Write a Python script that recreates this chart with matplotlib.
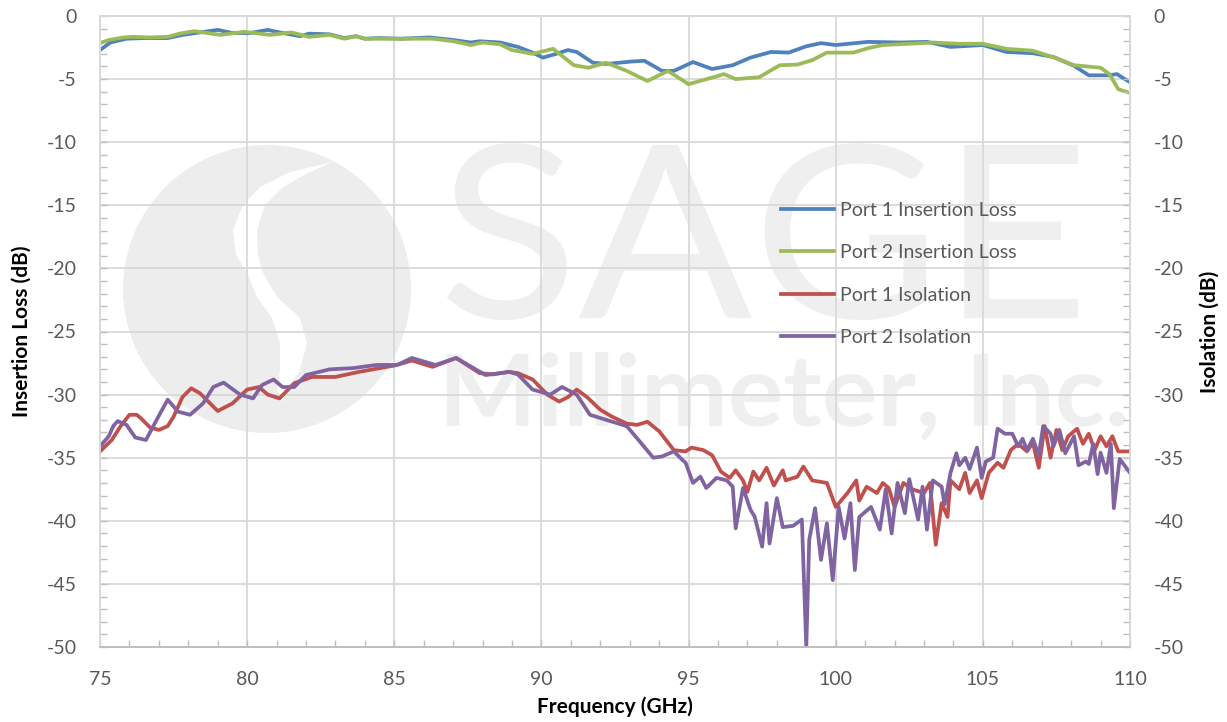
import matplotlib.pyplot as plt
from matplotlib.patches import Circle, Polygon, PathPatch
from matplotlib.textpath import TextPath
from matplotlib.font_manager import FontProperties
from matplotlib.transforms import Affine2D
from matplotlib.ticker import MultipleLocator

plt.rcParams['font.family'] = ['Lato', 'DejaVu Sans']
plt.rcParams['axes.unicode_minus'] = False

# Port 1 insertion loss (blue)
il1_f = [75.0, 75.35, 75.9, 76.5, 77.3, 77.8, 78.4, 79.0, 79.5, 80.1, 80.7, 81.1, 81.8, 82.1,
         82.8, 83.3, 83.7, 84.0, 84.5, 85.2, 86.2, 87.0, 87.6, 87.9, 88.6, 89.2, 89.7, 90.05,
         90.5, 90.9, 91.2, 91.75, 92.2, 93.1, 93.5, 94.1, 94.5, 95.15, 95.8, 96.5, 97.1, 97.8,
         98.4, 99.0, 99.5, 100.0, 101.1, 102.2, 103.1, 103.9, 105.0, 105.8, 106.7, 107.4,
         108.1, 108.6, 109.3, 109.55, 110.0]
il1 = [-2.7, -2.1, -1.8, -1.75, -1.75, -1.5, -1.3, -1.1, -1.35, -1.35, -1.1, -1.3, -1.6, -1.4,
       -1.45, -1.75, -1.6, -1.8, -1.75, -1.8, -1.7, -1.9, -2.1, -2.0, -2.1, -2.45, -2.9, -3.3,
       -3.0, -2.7, -2.85, -3.7, -3.8, -3.6, -3.55, -4.35, -4.35, -3.65, -4.2, -3.9, -3.3, -2.85,
       -2.9, -2.4, -2.15, -2.3, -2.05, -2.1, -2.05, -2.45, -2.3, -2.85, -2.95, -3.25,
       -3.95, -4.7, -4.7, -4.6, -5.25]

# Port 2 insertion loss (green)
il2_f = [75.0, 75.3, 75.8, 76.1, 76.7, 77.3, 77.7, 78.2, 79.1, 79.9, 80.8, 81.5, 82.1, 82.8,
         83.3, 83.7, 84.0, 85.2, 86.3, 87.0, 87.6, 88.0, 88.6, 89.0, 89.7, 90.4, 91.1, 91.6,
         92.2, 92.9, 93.6, 94.3, 95.0, 96.0, 96.2, 96.6, 97.4, 98.1, 98.7, 99.2, 99.7, 100.6,
         101.1, 101.6, 102.5, 103.3, 104.2, 105.0, 105.8, 106.7, 107.5, 108.1, 109.0, 109.3,
         109.6, 110.0]
il2 = [-2.15, -1.9, -1.7, -1.65, -1.7, -1.65, -1.4, -1.2, -1.5, -1.25, -1.5, -1.3, -1.65, -1.5,
       -1.8, -1.6, -1.8, -1.8, -1.8, -2.0, -2.3, -2.1, -2.25, -2.7, -3.0, -2.6, -3.9, -4.1,
       -3.7, -4.35, -5.15, -4.35, -5.4, -4.75, -4.6, -5.0, -4.85, -3.9, -3.85, -3.5, -2.9, -2.9,
       -2.55, -2.3, -2.2, -2.1, -2.2, -2.2, -2.6, -2.75, -3.35, -3.9, -4.1, -4.6,
       -5.8, -6.1]

# Port 1 isolation (red)
iso1_f = [75.0, 75.4, 75.7, 76.0, 76.25, 76.4, 76.7, 77.0, 77.3, 77.5, 77.8, 78.1, 78.4, 79.0,
          79.5, 80.0, 80.4, 80.7, 81.1, 81.6, 82.2, 83.0, 83.8, 85.0, 85.6, 86.3, 87.1, 87.9,
          88.35, 88.9, 89.2, 89.7, 90.2, 90.6, 90.9, 91.2, 91.55, 92.0, 92.4, 92.9, 93.25,
          93.6, 94.0, 94.5, 94.9, 95.1, 95.5, 95.8, 96.1, 96.4, 96.6, 96.85, 97.0, 97.2, 97.4,
          97.65, 97.9, 98.2, 98.3, 98.7, 98.9, 99.2, 99.7, 100.0, 100.4, 100.7, 100.8, 101.05,
          101.4, 101.6, 101.8, 102.0, 102.3, 102.6, 103.0, 103.2, 103.4, 103.6, 103.8, 103.9,
          104.2, 104.4, 104.55, 104.8, 104.96, 105.2, 105.5, 105.7, 105.95, 106.2, 106.5,
          106.7, 106.9, 107.1, 107.3, 107.5, 107.7, 107.9, 108.2, 108.4, 108.6, 108.8, 109.0,
          109.2, 109.4, 109.6, 110.0]
iso1 = [-34.5, -33.6, -32.5, -31.6, -31.6, -31.9, -32.6, -32.8, -32.5, -31.75, -30.2, -29.5,
        -29.9, -31.3, -30.7, -29.6, -29.4, -30.0, -30.3, -29.1, -28.6, -28.6, -28.2, -27.7,
        -27.3, -27.8, -27.1, -28.3, -28.4, -28.2, -28.3, -28.8, -30.0, -30.55, -30.2, -29.6,
        -30.2, -31.2, -31.75, -32.3, -32.4, -32.15, -32.9, -34.4, -34.5, -34.2, -34.4, -34.8,
        -36.1, -36.6, -36.0, -36.8, -37.7, -36.1, -36.8, -35.8, -37.2, -36.0, -36.8, -36.5,
        -35.7, -36.8, -37.0, -38.9, -37.8, -36.8, -38.4, -37.3, -37.8, -37.0, -37.4, -38.9,
        -37.0, -37.5, -37.8, -37.0, -41.9, -38.6, -39.7, -36.8, -37.5, -36.2, -37.8, -36.8,
        -38.2, -36.2, -35.4, -35.8, -34.4, -33.9, -34.5, -33.8, -35.8, -32.5, -35.0, -32.8,
        -34.4, -33.3, -32.7, -33.9, -33.1, -34.4, -33.3, -34.1, -33.3, -34.5, -34.5]

# Port 2 isolation (purple)
iso2_f = [75.0, 75.3, 75.45, 75.6, 75.9, 76.2, 76.56, 77.04, 77.3, 77.65, 78.06, 78.5, 78.85,
          79.2, 79.76, 80.2, 80.5, 80.9, 81.2, 81.6, 82.0, 82.8, 83.6, 84.4, 85.1, 85.6, 86.4,
          87.1, 88.1, 88.9, 89.2, 89.7, 90.3, 90.7, 91.2, 91.65, 92.2, 92.9, 93.3, 93.8, 94.1,
          94.5, 94.8, 94.9, 95.15, 95.4, 95.6, 95.95, 96.3, 96.5, 96.6, 96.85, 97.1, 97.25,
          97.5, 97.65, 97.75, 98.0, 98.2, 98.55, 98.85, 99.0, 99.1, 99.3, 99.5, 99.7, 99.9,
          100.1, 100.3, 100.5, 100.65, 100.8, 101.2, 101.5, 101.7, 101.9, 102.1, 102.35, 102.5,
          102.8, 102.95, 103.1, 103.3, 103.6, 103.7, 103.9, 104.1, 104.2, 104.4, 104.55, 104.8,
          104.96, 105.1, 105.35, 105.5, 105.75, 106.0, 106.2, 106.35, 106.5, 106.7, 106.9,
          107.05, 107.3, 107.4, 107.6, 107.8, 108.1, 108.25, 108.5, 108.6, 108.75, 108.9,
          109.0, 109.2, 109.35, 109.45, 109.65, 110.0]
iso2 = [-34.1, -33.3, -32.5, -32.1, -32.4, -33.4, -33.6, -31.5, -30.4, -31.35, -31.6, -30.7,
        -29.4, -29.05, -30.0, -30.3, -29.25, -28.8, -29.4, -29.4, -28.45, -28.0, -27.9, -27.65,
        -27.65, -27.1, -27.65, -27.1, -28.45, -28.2, -28.4, -29.6, -30.0, -29.4, -30.0, -31.6,
        -32.0, -32.5, -33.6, -35.0, -34.9, -34.5, -35.2, -35.4, -37.0, -36.5, -37.4, -36.6,
        -36.8, -37.3, -40.6, -37.4, -39.1, -39.7, -42.05, -38.6, -41.8, -38.2, -40.5, -40.4,
        -39.9, -50.0, -41.5, -39.0, -43.1, -40.2, -44.7, -38.9, -41.4, -38.6, -43.9, -39.7,
        -38.9, -40.7, -37.5, -41.0, -37.0, -39.4, -36.7, -39.9, -37.3, -40.7, -36.8, -37.3,
        -38.7, -36.2, -34.65, -35.6, -35.0, -35.9, -34.2, -36.6, -35.3, -35.0, -32.7, -33.1,
        -33.1, -34.1, -33.5, -34.4, -33.5, -34.8, -32.5, -33.1, -34.1, -32.8, -34.65, -33.3,
        -35.6, -35.3, -35.5, -33.9, -36.3, -34.6, -36.2, -33.9, -39.0, -35.1, -36.2]

labels = ["Port 1 Insertion Loss", "Port 2 Insertion Loss", "Port 1 Isolation", "Port 2 Isolation"]
colors = ["#4F81BD", "#9BBB59", "#C0504D", "#8064A2"]

W, H = 1227, 722
fig = plt.figure(figsize=(W / 100, H / 100), dpi=100)

# watermark layer in pixel coordinates, behind the chart
wm = fig.add_axes([0, 0, 1, 1], zorder=0)
wm.set_xlim(0, W)
wm.set_ylim(H, 0)
wm.axis("off")
wm.add_patch(Circle((267, 289), 144, color="#EDEDED", lw=0))
s_band = [(333, 162), (290, 172), (260, 187), (243, 205), (233, 230), (236, 255), (247, 273),
          (257, 297), (272, 318), (280, 343), (280, 370), (277, 390), (282, 402),
          (287, 390), (300, 370), (307, 343), (300, 318), (277, 297), (263, 273), (258, 255),
          (257, 230), (265, 205), (283, 187), (308, 173)]
wm.add_patch(Polygon(s_band, closed=True, color="white", lw=0))


def fit_text(txt, box, weight, color):
    tp = TextPath((0, 0), txt, size=100, prop=FontProperties(family="Lato", weight=weight))
    ext = tp.get_extents()
    x0, y0, x1, y1 = box
    sx = (x1 - x0) / ext.width
    sy = (y1 - y0) / ext.height
    tr = Affine2D().translate(-ext.x0, -ext.y0).scale(sx, -sy).translate(x0, y1)
    wm.add_patch(PathPatch(tr.transform_path(tp), color=color, lw=0))


fit_text("SAGE", (447, 143, 1078, 320), "normal", "#EFEFEF")
fit_text("Millimeter, Inc.", (447, 352, 1125, 440), "bold", "#EFEFEF")

ax = fig.add_axes([100 / W, 1 - 647 / H, 1030 / W, 631 / H], zorder=1)
ax.set_facecolor("none")
ax2 = ax.twinx()

ax.plot(il1_f, il1, color=colors[0], lw=2.7, label=labels[0])
ax.plot(il2_f, il2, color=colors[1], lw=2.7, label=labels[1])
ax2.plot(iso1_f, iso1, color=colors[2], lw=2.7, label=labels[2])
ax2.plot(iso2_f, iso2, color=colors[3], lw=2.7, label=labels[3])

for a in (ax, ax2):
    a.set_xlim(75, 110)
    a.set_ylim(-50, 0)
    a.yaxis.set_major_locator(MultipleLocator(5))
    a.yaxis.set_minor_locator(MultipleLocator(1))
    for s in a.spines.values():
        s.set_color("#D9D9D9")
        s.set_linewidth(1.3)
    a.spines["bottom"].set_color("#BFBFBF")

ax.xaxis.set_major_locator(MultipleLocator(5))
ax.xaxis.set_minor_locator(MultipleLocator(1))
ax.grid(True, which="major", color="#D9D9D9", lw=1.3)
ax.set_axisbelow(True)

ax.tick_params(which="both", direction="in", length=5, color="#BFBFBF", width=1,
               labelsize=14, labelcolor="#595959", pad=17, right=False)
ax2.tick_params(which="both", direction="in", length=5, color="#BFBFBF", width=1,
                labelsize=14, labelcolor="#595959", pad=17)

ax.set_xlabel("Frequency (GHz)", fontsize=15, fontweight="bold", color="black")
ax.set_ylabel("Insertion Loss (dB)", fontsize=15, fontweight="bold", color="black")
ax2.set_ylabel("Isolation (dB)", fontsize=15, fontweight="bold", color="black")
ax.xaxis.set_label_coords(0.5, -0.095)
ax.xaxis.label.set_va("center")
ax.yaxis.set_label_coords(-0.0757, 0.5)
ax.yaxis.label.set_va("center")
ax2.yaxis.set_label_coords(1.0777, 0.5)
ax2.yaxis.label.set_va("center")
ax2.yaxis.label.set_rotation(90)

h1, l1 = ax.get_legend_handles_labels()
h2, l2 = ax2.get_legend_handles_labels()
leg = ax2.legend(h1 + h2, l1 + l2, loc="upper left", bbox_to_anchor=(781 / W, 1 - 202 / H),
                 bbox_transform=fig.transFigure, frameon=False, fontsize=14,
                 handlelength=2.7, handletextpad=0.35, labelspacing=1.3,
                 borderpad=0, borderaxespad=0)
for t in leg.get_texts():
    t.set_color("#595959")

plt.savefig("out.png", dpi=100)
